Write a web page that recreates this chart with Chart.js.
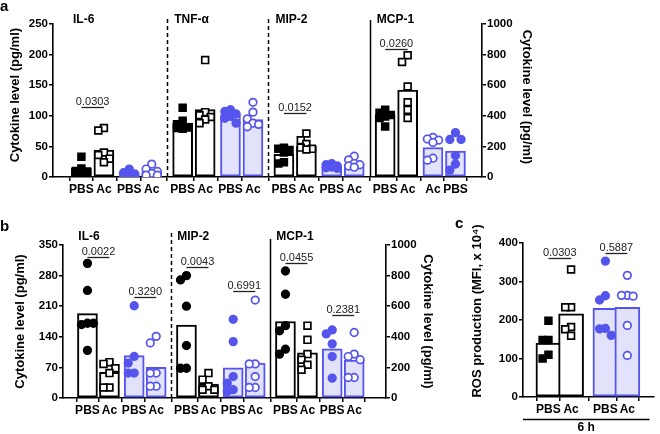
<!DOCTYPE html>
<html>
<head>
<meta charset="utf-8">
<script src="https://cdn.jsdelivr.net/npm/chart.js"></script>
<style>
  body { margin: 0; background: #fff; width: 660px; height: 434px; position: relative; overflow: hidden; }
  canvas { position: absolute; }
  #ca { left: 0; top: 0; }
  #cb { left: 0; top: 200px; }
  #cc { left: 445px; top: 200px; }
</style>
</head>
<body>
<canvas id="ca" width="540" height="200"></canvas>
<canvas id="cb" width="445" height="222"></canvas>
<canvas id="cc" width="215" height="234"></canvas>
<script>
// ---- panel a : cytokines, left axis pg/ml (IL-6, TNF, MIP-2), right axis for MCP-1
var aGroups = ['IL-6', 'TNF-\u03b1', 'MIP-2', 'MCP-1'];
var aLabels = ['PBS', 'Ac', 'PBS', 'Ac', 'PBS', 'Ac', 'PBS', 'Ac', 'PBS', 'Ac', 'PBS', 'Ac', 'PBS', 'Ac', 'Ac', 'PBS'];
var aMeans = [14, 44, 5, 9, 88, 110, 102, 94, 37, 50, 17, 21, 405, 568, 193, 170];
var aPoints = [
  [33, 14, 10, 9, 8, 7], [80, 76, 40, 36, 30, 24], [13, 7, 5, 3, 2, 1], [21, 13, 9, 6, 3, 3],
  [113, 92, 86, 81, 79, 80], [191, 106, 101, 98, 94, 88], [110, 107, 103, 99, 96, 88], [122, 106, 95, 88, 86, 82],
  [48, 46, 44, 40, 24, 22], [71, 60, 54, 48, 46, 45], [22, 20, 18, 16, 15, 14], [34, 28, 22, 20, 18, 16],
  [440, 420, 405, 395, 385, 330], [796, 752, 592, 489, 439, 386], [259, 248, 241, 226, 123, 110], [290, 245, 245, 140, 85, 45]
];
var aPValues = [{ pair: [0, 1], text: '0.0303' }, { pair: [8, 9], text: '0.0152' }, { pair: [12, 13], text: '0.0260' }];

// ---- panel b
var bGroups = ['IL-6', 'MIP-2', 'MCP-1'];
var bLabels = ['PBS', 'Ac', 'PBS', 'Ac', 'PBS', 'Ac', 'PBS', 'Ac', 'PBS', 'Ac', 'PBS', 'Ac'];
var bMeans = [193, 59, 97, 70, 167, 32, 69, 80, 500, 295, 322, 248];
var bPoints = [
  [308, 246, 171, 168, 171, 109], [82, 78, 68, 57, 24, 24], [211, 95, 80, 57, 57], [141, 126, 57, 57, 27, 27],
  [280, 270, 210, 120, 68, 68], [57, 42, 27, 19, 19], [180, 129, 49, 34, 19, 15], [224, 78, 78, 49, 24, 24],
  [830, 678, 473, 439, 319, 287], [473, 380, 287, 250, 217, 185], [445, 419, 354, 271, 130], [428, 287, 271, 250, 134, 134]
];
var bPValues = [
  { pair: [0, 1], text: '0.0022' }, { pair: [2, 3], text: '0.3290' },
  { pair: [4, 5], text: '0.0043' }, { pair: [6, 7], text: '0.6991' },
  { pair: [8, 9], text: '0.0455' }, { pair: [10, 11], text: '0.2381' }
];

// ---- panel c : ROS
var cLabels = ['PBS', 'Ac', 'PBS', 'Ac'];
var cMeans = [140, 216, 230, 233];
var cPoints = [[198, 148, 148, 110, 100], [331, 233, 233, 182, 176, 159], [353, 263, 252, 178, 177, 160], [316, 264, 264, 262, 186, 108]];
var cPValues = [{ pair: [0, 1], text: '0.0303' }, { pair: [2, 3], text: '0.5887' }];

var FONT = '"Liberation Sans", Arial, sans-serif';
var BLUE = '#5555ee';
var BLUE_FILL = '#e2e2fa';

Chart.defaults.font.family = FONT;
Chart.defaults.color = '#000';
Chart.defaults.animation = false;

var KIND = {
  sqFill:   { shape: 'rect',   fill: '#000', line: '#000', barFill: '#fff', barLine: '#000' },
  sqOpen:   { shape: 'rect',   fill: '#fff', line: '#000', barFill: '#fff', barLine: '#000' },
  dotFill:  { shape: 'circle', fill: '#000', line: '#000', barFill: '#fff', barLine: '#000' },
  blueFill: { shape: 'circle', fill: BLUE,   line: BLUE,   barFill: BLUE_FILL, barLine: BLUE },
  blueOpen: { shape: 'circle', fill: '#fff', line: BLUE,   barFill: BLUE_FILL, barLine: BLUE }
};

// bar x positions inside each cytokine block (pixels == x units)
var OFFS = [0, 24, 51, 75], STEP = 108;
function blockPos(n) {
  var out = [];
  for (var k = 0; k < n; k++) out.push(Math.floor(k / 4) * STEP + OFFS[k % 4]);
  return out;
}

// simple beeswarm: spread points sideways when they would overlap
function swarm(vals, ppu, spread) {
  var placed = [];
  var cands = [0, -spread, spread];
  return vals.map(function (v) {
    var y = v * ppu, best = 0, bestD = -1;
    for (var c = 0; c < cands.length; c++) {
      var d = Infinity;
      placed.forEach(function (p) { d = Math.min(d, Math.hypot(cands[c] - p.x, y - p.y)); });
      if (d >= 7) { best = cands[c]; break; }
      if (d > bestD) { bestD = d; best = cands[c]; }
    }
    placed.push({ x: best, y: y });
    return best;
  });
}

function buildSets(p) {
  var sets = [];
  ['y', 'y1'].forEach(function (ax) {
    var idx = p.means.map(function (m, i) { return i; }).filter(function (i) { return p.axes[i] === ax; });
    if (!idx.length) return;
    sets.push({
      type: 'bar', yAxisID: ax, order: 2, grouped: false,
      data: idx.map(function (i) { return { x: p.pos[i], y: p.means[i] }; }),
      backgroundColor: idx.map(function (i) { return KIND[p.kinds[i]].barFill; }),
      borderColor: idx.map(function (i) { return KIND[p.kinds[i]].barLine; }),
      borderWidth: 2, borderSkipped: false, barThickness: p.barW
    });
  });
  p.points.forEach(function (vals, i) {
    var k = KIND[p.kinds[i]];
    var dx = swarm(vals, p.ppu[p.axes[i]], p.spread);
    sets.push({
      type: 'scatter', yAxisID: p.axes[i], order: 1,
      data: vals.map(function (v, j) { return { x: p.pos[i] + dx[j], y: v }; }),
      pointStyle: k.shape, pointRadius: k.shape === 'rect' ? 4.8 : 3.8,
      pointBackgroundColor: k.fill, pointBorderColor: k.line, pointBorderWidth: 1.7
    });
  });
  return sets;
}

function yAxis(pos, max, step, width, titlePad, title) {
  return {
    type: 'linear', position: pos, min: 0, max: max,
    ticks: { stepSize: step, font: { size: 11.5, weight: 'bold' }, padding: 1,
      callback: function (v) { return String(v); } },
    grid: { drawOnChartArea: false, tickLength: 4, color: '#000', lineWidth: 1.5 },
    border: { color: '#000', width: 1.6 },
    title: { display: true, text: title, font: { size: 13, weight: 'bold', lineHeight: 1.2 }, padding: { top: titlePad, bottom: 0 } },
    afterFit: function (s) { s.width = width; }
  };
}

function xAxis(p) {
  return {
    type: 'linear', min: p.xmin, max: p.xmax,
    afterBuildTicks: function (s) { s.ticks = p.pos.map(function (v) { return { value: v }; }); },
    ticks: { autoSkip: false, maxRotation: 0, padding: 1, font: { size: 12, weight: 'bold' },
      callback: function (v, i) { return p.labels[i]; } },
    grid: { drawOnChartArea: false, tickLength: 4, color: '#000', lineWidth: 1.5 },
    border: { color: '#000', width: 1.5 },
    afterFit: function (s) { s.height = p.xh; }
  };
}

var deco = {
  id: 'deco',
  afterDraw: function (chart, args, o) {
    var ctx = chart.ctx, a = chart.chartArea, xs = chart.scales.x;
    ctx.save();
    ctx.strokeStyle = '#000';
    ctx.fillStyle = '#000';
    ctx.lineWidth = 1.5;
    (o.seps || []).forEach(function (s) {
      var px = Math.round(xs.getPixelForValue(s.at)) + 0.5;
      ctx.setLineDash(s.dash ? [4, 3] : []);
      ctx.beginPath();
      ctx.moveTo(px, a.top - s.up);
      ctx.lineTo(px, a.bottom);
      ctx.stroke();
    });
    ctx.setLineDash([]);
    ctx.font = 'bold 12px ' + FONT;
    ctx.textAlign = 'left';
    ctx.textBaseline = 'middle';
    (o.titles || []).forEach(function (t) {
      ctx.fillText(t.text, xs.getPixelForValue(t.at), a.top + o.titleDy);
    });
    ctx.font = '11px ' + FONT;
    ctx.textAlign = 'center';
    ctx.textBaseline = 'alphabetic';
    ctx.fillStyle = '#222';
    ctx.strokeStyle = '#222';
    ctx.lineWidth = 1.3;
    (o.brackets || []).forEach(function (b) {
      var x1 = xs.getPixelForValue(b.x1), x2 = xs.getPixelForValue(b.x2);
      var y = Math.round(chart.scales[b.axis].getPixelForValue(b.y)) + 0.5;
      ctx.beginPath();
      ctx.moveTo(x1, y);
      ctx.lineTo(x2, y);
      ctx.stroke();
      ctx.fillText(b.text, (x1 + x2) / 2, y - 3);
    });
    ctx.fillStyle = '#000';
    ctx.strokeStyle = '#000';
    if (o.under) {
      ctx.lineWidth = 1.5;
      ctx.beginPath();
      ctx.moveTo(a.left, a.bottom + 22.5);
      ctx.lineTo(a.right - 4, a.bottom + 22.5);
      ctx.stroke();
      ctx.font = 'bold 12px ' + FONT;
      ctx.textBaseline = 'middle';
      ctx.fillText(o.under, (a.left + a.right - 4) / 2, a.bottom + 31);
    }
    if (o.letter) {
      ctx.font = 'bold 15px ' + FONT;
      ctx.textAlign = 'left';
      ctx.textBaseline = 'alphabetic';
      ctx.fillText(o.letter.text, o.letter.x, o.letter.y);
    }
    ctx.restore();
  }
};

function makeChart(id, p) {
  var scales = { x: xAxis(p), y: p.yLeft };
  if (p.yRight) scales.y1 = p.yRight;
  return new Chart(document.getElementById(id), {
    type: 'bar',
    data: { datasets: buildSets(p) },
    options: {
      responsive: false,
      layout: { padding: p.pad },
      plugins: { legend: { display: false }, tooltip: { enabled: false }, deco: p.deco },
      scales: scales
    },
    plugins: [deco]
  });
}

function brackets(pv, pos, levels, axes) {
  return pv.map(function (v, i) {
    return { x1: pos[v.pair[0]], x2: pos[v.pair[1]], y: levels[i], axis: axes[v.pair[0]], text: v.text };
  });
}

// ---- panel a
var aPos = blockPos(16);
var aAxes = aMeans.map(function (m, i) { return i >= 12 ? 'y1' : 'y'; });
makeChart('ca', {
  pos: aPos, labels: aLabels, means: aMeans, points: aPoints, axes: aAxes,
  kinds: ['sqFill', 'sqOpen', 'blueFill', 'blueOpen', 'sqFill', 'sqOpen', 'blueFill', 'blueOpen',
          'sqFill', 'sqOpen', 'blueFill', 'blueOpen', 'sqFill', 'sqOpen', 'blueOpen', 'blueFill'],
  ppu: { y: 153 / 250, y1: 153 / 1000 }, spread: 6, barW: 20,
  xmin: -16, xmax: 413, xh: 23, pad: { top: 24, left: 0, right: 0, bottom: 0 },
  yLeft: yAxis('left', 250, 50, 53, 7.2, '\u00a0\u00a0\u00a0Cytokine level (pg/ml)'),
  yRight: yAxis('right', 1000, 200, 58, 5.2, 'Cytokine level (pg/ml)\u00a0\u00a0'),
  deco: {
    seps: [{ at: STEP - 16.5, dash: true, up: 5 }, { at: 2 * STEP - 16.5, dash: true, up: 5 }, { at: 3 * STEP - 16.5, dash: false, up: 4 }],
    titles: aGroups.map(function (g, i) { return { text: g, at: i * STEP - 9 }; }), titleDy: -4,
    brackets: brackets(aPValues, aPos, [114, 105, 837], aAxes),
    letter: { text: 'a', x: 0, y: 11 }
  }
});

// ---- panel b
var bPos = blockPos(12);
var bAxes = bMeans.map(function (m, i) { return i >= 8 ? 'y1' : 'y'; });
makeChart('cb', {
  pos: bPos, labels: bLabels, means: bMeans, points: bPoints, axes: bAxes,
  kinds: ['dotFill', 'sqOpen', 'blueFill', 'blueOpen', 'dotFill', 'sqOpen', 'blueFill', 'blueOpen',
          'dotFill', 'sqOpen', 'blueFill', 'blueOpen'],
  ppu: { y: 153.3 / 350, y1: 153.3 / 1000 }, spread: 6.5, barW: 20,
  xmin: -12, xmax: 311, xh: 24, pad: { top: 45, left: 0, right: 0, bottom: 0 },
  yLeft: yAxis('left', 350, 70, 63, 12.2, 'Cytokine level (pg/ml)'),
  yRight: yAxis('right', 1000, 200, 59, 9.2, 'Cytokine level (pg/ml)'),
  deco: {
    seps: [{ at: STEP - 16.5, dash: true, up: 12 }, { at: 2 * STEP - 16.5, dash: false, up: 6 }],
    titles: bGroups.map(function (g, i) { return { text: g, at: i * STEP - 10 }; }), titleDy: -8,
    brackets: brackets(bPValues, bPos, [322, 230, 299, 245, 884, 543], bAxes),
    letter: { text: 'b', x: 0, y: 31 }
  }
});

// ---- panel c
var cPos = [0, 31, 78, 108];
var cAxes = ['y', 'y', 'y', 'y'];
makeChart('cc', {
  pos: cPos, labels: cLabels, means: cMeans, points: cPoints, axes: cAxes,
  kinds: ['sqFill', 'sqOpen', 'blueFill', 'blueOpen'],
  ppu: { y: 154.6 / 400 }, spread: 8, barW: 25,
  xmin: -12.5, xmax: 121.5, xh: 37, pad: { top: 43, left: 0, right: 3, bottom: 0 },
  yLeft: yAxis('left', 400, 100, 78, 24.2, '\u00a0\u00a0\u00a0\u00a0\u00a0ROS production (MFI, x 10\u2074)'),
  deco: {
    brackets: brackets(cPValues, cPos, [362, 374], cAxes),
    under: '6 h',
    letter: { text: 'c', x: 10, y: 28 }
  }
});
</script>
</body>
</html>
